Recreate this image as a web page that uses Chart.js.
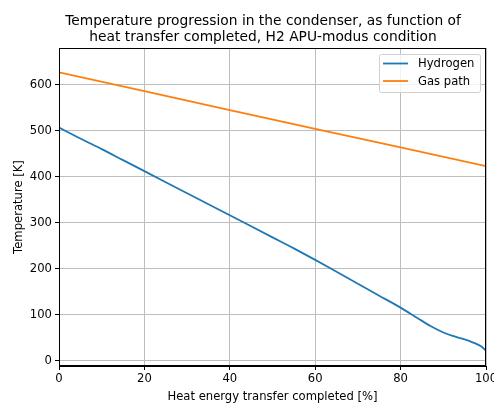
<!DOCTYPE html>
<html>
<head>
<meta charset="utf-8">
<script src="https://cdn.jsdelivr.net/npm/chart.js@4/dist/chart.umd.min.js"></script>
<style>
  html, body { margin: 0; padding: 0; background: #fff; }
  #wrap { width: 494px; height: 404px; }
</style>
</head>
<body>
<div id="wrap"><canvas id="chart" width="494" height="404"></canvas></div>
<script>
const TITLE_LINES = [
  "Temperature progression in the condenser, as function of",
  "heat transfer completed, H2 APU-modus condition",
];
const X_LABEL = "Heat energy transfer completed [%]";
const Y_LABEL = "Temperature [K]";
const Y_TICKS = [0, 100, 200, 300, 400, 500, 600];

// heat transfer completed [%]
const h2X = [0, 5, 10, 15, 20, 25, 30, 35, 40, 45, 50, 55, 60, 65, 70, 75, 80, 84, 87, 90, 92, 95, 97, 99, 100];
const h2T = [507, 483, 460, 436, 412, 388, 364, 340, 316, 292, 268, 244, 219, 193, 167, 141, 115, 92, 75, 61, 54, 46, 39, 30, 21];

const gasX = [0, 20, 40, 60, 80, 100];
const gasT = [627, 586, 545, 504, 464, 423];

const FONT = "'DejaVu Sans', sans-serif";
const pts = (xs, ys) => xs.map((x, i) => ({ x, y: ys[i] }));

// matplotlib-ish legend box + frame + title
const decor = {
  id: "decor",
  afterDraw(chart) {
    const ctx = chart.ctx;
    const a = chart.chartArea;
    ctx.save();
    ctx.strokeStyle = "#000";
    ctx.lineWidth = 1;
    ctx.strokeRect(a.left + 0.5, a.top + 0.5, a.right - a.left - 1, a.bottom - a.top - 1);

    ctx.fillStyle = "#000";
    ctx.font = "13.8px " + FONT;
    ctx.textAlign = "center";
    ctx.textBaseline = "alphabetic";
    ctx.fillText(TITLE_LINES[0], 263, 25);
    ctx.fillText(TITLE_LINES[1], 263, 41);

    // legend
    const bx = 379, by = 54, bw = 101, bh = 38;
    ctx.beginPath();
    ctx.roundRect(bx + 0.5, by + 0.5, bw, bh, 2);
    ctx.fillStyle = "rgba(255,255,255,0.8)";
    ctx.fill();
    ctx.strokeStyle = "#d0d0d0";
    ctx.stroke();
    ctx.font = "11.6px " + FONT;
    ctx.textAlign = "left";
    ctx.textBaseline = "middle";
    chart.data.datasets.forEach((ds, i) => {
      const y = by + 9.5 + i * 17.5;
      ctx.strokeStyle = ds.borderColor;
      ctx.lineWidth = 1.8;
      ctx.beginPath();
      ctx.moveTo(bx + 4, y);
      ctx.lineTo(bx + 29, y);
      ctx.stroke();
      ctx.fillStyle = "#000";
      ctx.fillText(ds.label, bx + 39, y + 0.5);
    });
    ctx.restore();
  },
};

new Chart(document.getElementById("chart"), {
  type: "line",
  data: {
    datasets: [
      {
        label: "Hydrogen",
        data: pts(h2X, h2T),
        borderColor: "#1f77b4",
        borderWidth: 1.8,
        pointRadius: 0,
        cubicInterpolationMode: "monotone",
      },
      {
        label: "Gas path",
        data: pts(gasX, gasT),
        borderColor: "#ff7f0e",
        borderWidth: 1.8,
        pointRadius: 0,
      },
    ],
  },
  options: {
    responsive: false,
    animation: false,
    layout: { padding: { top: 48, right: 8, left: 0, bottom: 0 } },
    plugins: {
      legend: { display: false },
      tooltip: { enabled: false },
    },
    scales: {
      x: {
        type: "linear",
        min: 0,
        max: 100,
        ticks: { stepSize: 20, color: "#000", font: { family: FONT, size: 11.6 }, padding: 2, maxRotation: 0 },
        grid: { color: "#bdbdbd", lineWidth: 1, tickColor: "#000", tickLength: 4 },
        border: { color: "#000", width: 1 },
        title: { display: true, text: X_LABEL, color: "#000", font: { family: FONT, size: 11.6 }, padding: { top: 1, bottom: 0 } },
        afterFit(scale) {
          scale.height = 38;
          scale.paddingLeft = 0;
          scale.paddingRight = 0;
        },
      },
      y: {
        min: -12,
        max: 680,
        afterBuildTicks(scale) {
          scale.ticks = Y_TICKS.map((v) => ({ value: v }));
        },
        ticks: { color: "#000", font: { family: FONT, size: 11.6 }, padding: 3 },
        grid: { color: "#bdbdbd", lineWidth: 1, tickColor: "#000", tickLength: 4 },
        border: { color: "#000", width: 1 },
        title: { display: true, text: Y_LABEL, color: "#000", font: { family: FONT, size: 11.6 }, padding: { top: 12, bottom: 0 } },
        afterFit(scale) {
          scale.width = 59;
          scale.paddingTop = 0;
          scale.paddingBottom = 0;
        },
      },
    },
  },
  plugins: [decor],
});
</script>
</body>
</html>
